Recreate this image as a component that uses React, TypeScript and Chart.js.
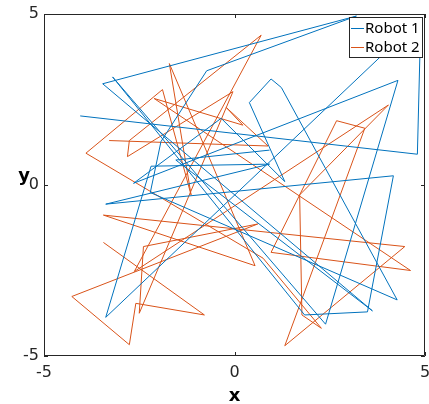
import React, { useEffect, useRef } from "react";
import { Chart, registerables } from "chart.js";

Chart.register(...registerables);

const xTicks = [-5, 0, 5];
const yTicks = [-5, 0, 5];
const seriesNames = ["Robot 1", "Robot 2"];
const seriesColors = ["#0072BD", "#D95319"];

const robot1X = [-4.05, 4.8, 4.89, -3.38, -2.19, 0.92, -3.38, 4.17, 3.49, 1.84, -3.2, 2.39, 4.29, -2.65, -0.35, 1.32, 0.39, 0.96, 1.23, 4.27, -2.21, -1.93, -0.73, 3.2, -3.46, 3.62, -1.54, 0.92];
const robot1Y = [2.02, 0.9, 4.87, -3.87, 0.55, 0.61, -0.56, 0.27, -3.71, -3.8, 3.16, -4.07, 3.06, 0.05, 1.95, 0.1, 2.41, 3.1, 2.85, -3.36, -0.22, 1.27, 3.34, 4.94, 2.96, -3.68, 0.73, 1.02];

const robot2X = [-3.29, 0.88, -0.22, 0.22, -2.11, 4.62, 0.96, 2.68, 3.42, 1.32, 4.47, -3.44, 0.54, -1.71, -1.14, -1.89, -3.9, 0.75, 2.28, 1.77, 1.71, 4.04, -2.63, 0.7, -2.76, -2.81, -0.04, -2.5, -2.39, 0.61, -4.27, -2.76, -2.59, -0.79, -3.44];
const robot2Y = [1.3, 1.14, 2.27, 1.75, 2.53, -2.5, -1.97, 1.88, 1.66, -4.7, -1.8, -0.88, -2.36, 3.55, -0.29, 2.79, 0.93, -2.14, -4.19, -3.8, -0.29, 2.34, -2.53, 4.38, 1.3, 0.83, 2.73, -3.75, -1.8, -1.14, -3.26, -4.67, -3.46, -3.8, -1.68];

function buildPoints(xs: number[], ys: number[]) {
  return xs.map((x, i) => ({ x, y: ys[i] }));
}

const AXIS_COLOR = "#262626";
const FONT = "'DejaVu Sans', sans-serif";

const framePlugin = {
  id: "matlabFrame",
  afterDatasetsDraw(chart: any) {
    const { ctx, chartArea, scales } = chart;
    const { left, right, top, bottom } = chartArea;
    ctx.save();
    ctx.strokeStyle = AXIS_COLOR;
    ctx.lineWidth = 1;
    ctx.beginPath();
    ctx.rect(left + 0.5, top + 0.5, right - left - 1, bottom - top - 1);
    ctx.stroke();
    const tl = 4;
    ctx.beginPath();
    xTicks.forEach((v) => {
      const px = Math.round(scales.x.getPixelForValue(v)) + 0.5;
      ctx.moveTo(px, bottom);
      ctx.lineTo(px, bottom - tl);
      ctx.moveTo(px, top);
      ctx.lineTo(px, top + tl);
    });
    yTicks.forEach((v) => {
      const py = Math.round(scales.y.getPixelForValue(v)) + 0.5;
      ctx.moveTo(left, py);
      ctx.lineTo(left + tl, py);
      ctx.moveTo(right, py);
      ctx.lineTo(right - tl, py);
    });
    ctx.stroke();

    // axis titles
    ctx.fillStyle = "#000000";
    ctx.font = `bold 18px ${FONT}`;
    ctx.textAlign = "center";
    ctx.textBaseline = "middle";
    ctx.fillText("x", (left + right) / 2, 396);
    ctx.fillText("y", 24, 176);

    // legend
    const lx = 349, ly = 17, lw = 73, lh = 40;
    ctx.fillStyle = "#ffffff";
    ctx.fillRect(lx, ly, lw, lh);
    ctx.strokeStyle = AXIS_COLOR;
    ctx.strokeRect(lx + 0.5, ly + 0.5, lw, lh);
    ctx.font = `15px 'Noto Sans', sans-serif`;
    ctx.textAlign = "left";
    ctx.textBaseline = "middle";
    seriesNames.forEach((name, i) => {
      const y = ly + 11 + i * 19;
      ctx.strokeStyle = seriesColors[i];
      ctx.beginPath();
      ctx.moveTo(lx + 2, y + 0.5);
      ctx.lineTo(lx + 15, y + 0.5);
      ctx.stroke();
      ctx.fillStyle = "#000000";
      ctx.fillText(name, lx + 16, y + 1);
    });
    ctx.restore();
  },
};

export default function App() {
  const canvasRef = useRef<HTMLCanvasElement | null>(null);

  useEffect(() => {
    if (!canvasRef.current) return;
    const chart = new Chart(canvasRef.current, {
      type: "scatter",
      data: {
        datasets: [
          {
            label: seriesNames[0],
            data: buildPoints(robot1X, robot1Y),
            showLine: true,
            borderColor: seriesColors[0],
            backgroundColor: seriesColors[0],
            borderWidth: 1,
            pointRadius: 0,
            tension: 0,
          },
          {
            label: seriesNames[1],
            data: buildPoints(robot2X, robot2Y),
            showLine: true,
            borderColor: seriesColors[1],
            backgroundColor: seriesColors[1],
            borderWidth: 1,
            pointRadius: 0,
            tension: 0,
          },
        ],
      },
      options: {
        responsive: false,
        animation: false,
        layout: { padding: { top: 14, right: 4, left: 0, bottom: 0 } },
        plugins: { legend: { display: false }, tooltip: { enabled: false } },
        scales: {
          x: {
            type: "linear",
            min: -5,
            max: 5,
            afterFit: (s: any) => { s.height = 48; s.paddingLeft = 0; s.paddingRight = 0; },
            afterBuildTicks: (s: any) => { s.ticks = xTicks.map((v) => ({ value: v })); },
            grid: { display: false, drawTicks: false },
            border: { display: false },
            ticks: { color: AXIS_COLOR, font: { family: FONT, size: 16 }, padding: 7, maxRotation: 0 },
          },
          y: {
            type: "linear",
            min: -5,
            max: 5,
            afterFit: (s: any) => { s.width = 44; s.paddingTop = 0; s.paddingBottom = 0; },
            afterBuildTicks: (s: any) => { s.ticks = yTicks.map((v) => ({ value: v })); },
            grid: { display: false, drawTicks: false },
            border: { display: false },
            ticks: { color: AXIS_COLOR, font: { family: FONT, size: 16 }, padding: 5 },
          },
        },
      },
      plugins: [framePlugin],
    });
    return () => chart.destroy();
  }, []);

  return (
    <div style={{ position: "absolute", left: 0, top: 0, width: 429, height: 404, background: "#fff" }}>
      <canvas ref={canvasRef} width={429} height={404} />
    </div>
  );
}
